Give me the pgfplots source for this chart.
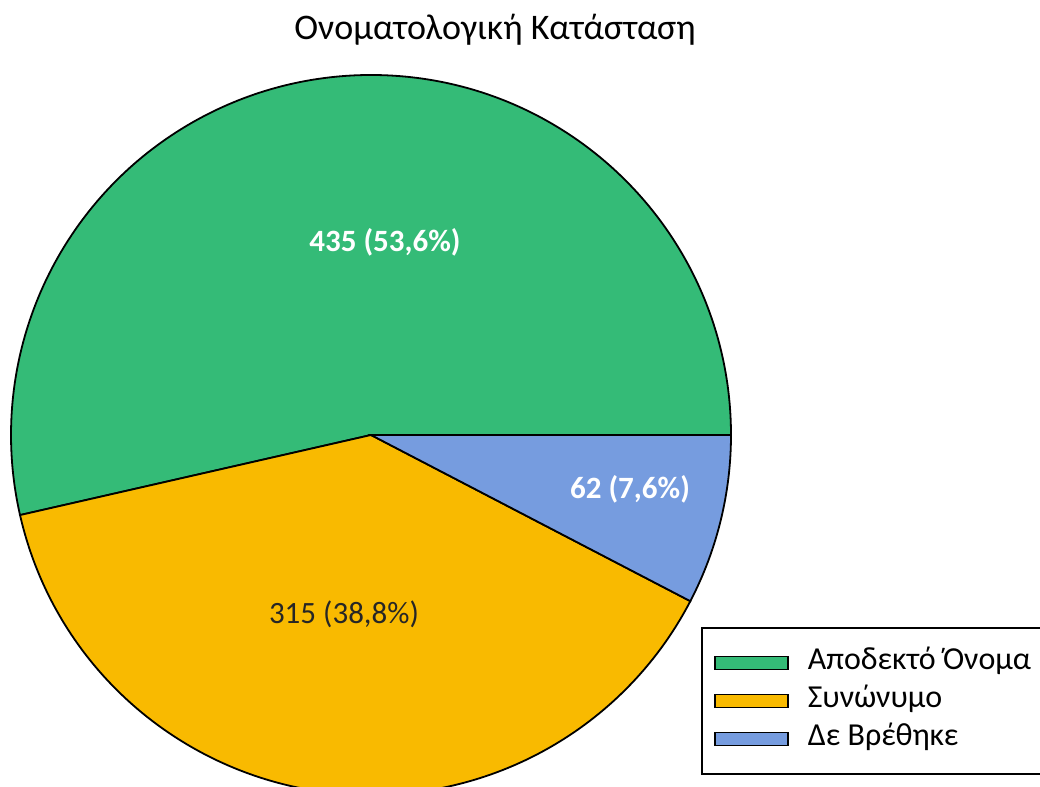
\documentclass[border=0pt]{standalone}
\usepackage{pgfplots}
\pgfplotsset{compat=1.18}
\usepackage{pgfplotstable}
\usepackage{fontspec}
\setmainfont{Carlito}

\definecolor{pgreen}{RGB}{52,187,119}
\definecolor{pyellow}{RGB}{249,186,0}
\definecolor{pblue}{RGB}{118,156,223}

% values of the three slices
\pgfplotstableread{
name value
accepted 435
synonym 315
notfound 62
}\piedata

\begin{document}
\begin{tikzpicture}
\clip (0,0) rectangle (520pt,393.5pt);

\pgfplotstablegetelem{0}{value}\of\piedata \let\va\pgfplotsretval
\pgfplotstablegetelem{1}{value}\of\piedata \let\vb\pgfplotsretval
\pgfplotstablegetelem{2}{value}\of\piedata \let\vc\pgfplotsretval
\pgfmathsetmacro\total{\va+\vb+\vc}
\pgfmathsetmacro\angA{360*(\va/\total)}
\pgfmathsetmacro\angB{\angA+360*(\vb/\total)}

\begin{axis}[
  at={(0,0)}, anchor=south west,
  x=0.5pt, y=0.5pt,
  xmin=0, xmax=1040, ymin=0, ymax=787,
  hide axis, clip=false,
  title={Ονοματολογική Κατάσταση},
  title style={at={(0.476,0.947)}, anchor=center, font=\fontsize{18}{22}\selectfont},
  legend image code/.code={
    \draw[#1, draw=black, line width=0.8pt] (0pt,-3.25pt) rectangle (36.5pt,3.25pt);
    \path (44pt,0pt);},
  legend style={
    at={(axis cs:701,160)}, anchor=north west,
    draw=black, line width=1pt,
    font=\fontsize{16}{19}\selectfont,
    inner xsep=6pt, inner ysep=8pt,
    nodes={text height=11pt, text depth=4pt, inner sep=2pt},
    row sep=0pt,
  },
  legend cell align=left,
]
\filldraw[fill=pgreen, draw=black, line width=0.9pt]
  (axis cs:371,352) -- ++(0:180pt) arc[start angle=0, end angle=\angA, radius=180pt] -- cycle;
\filldraw[fill=pyellow, draw=black, line width=0.9pt]
  (axis cs:371,352) -- ++(\angA:180pt) arc[start angle=\angA, end angle=\angB, radius=180pt] -- cycle;
\filldraw[fill=pblue, draw=black, line width=0.9pt]
  (axis cs:371,352) -- ++(\angB:180pt) arc[start angle=\angB, end angle=360, radius=180pt] -- cycle;

\node[text=white, font=\fontsize{15.5}{18}\selectfont\bfseries] at (axis cs:385,545) {435 (53,6\%)};
\node[text=black!85, font=\fontsize{15.5}{18}\selectfont] at (axis cs:344,173) {315 (38,8\%)};
\node[text=white, font=\fontsize{15.5}{18}\selectfont\bfseries] at (axis cs:630,298) {62 (7,6\%)};

\addlegendimage{fill=pgreen}
\addlegendentry{Αποδεκτό Όνομα\hspace{6pt}}
\addlegendimage{fill=pyellow}
\addlegendentry{Συνώνυμο}
\addlegendimage{fill=pblue}
\addlegendentry{Δε Βρέθηκε}
\end{axis}
\end{tikzpicture}
\end{document}
